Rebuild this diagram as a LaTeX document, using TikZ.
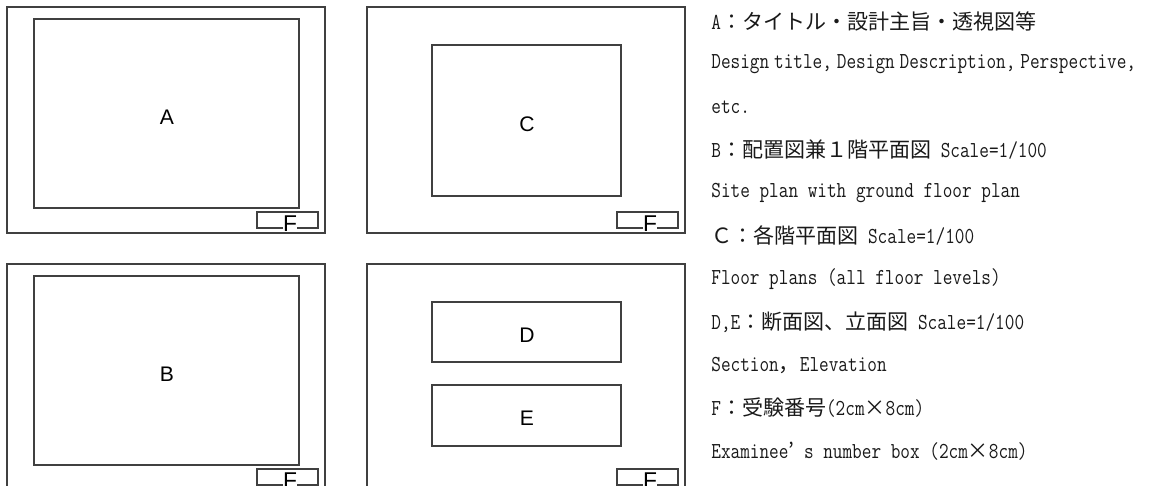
\documentclass[tikz,border=0pt]{standalone}
\usepackage{fontspec}
\setmonofont{Latin Modern Mono}[FakeStretch=0.82]
\newfontfamily\cjk{Noto Sans CJK JP}[Scale=0.92]
\newfontfamily\boxfont{Liberation Sans}
\usetikzlibrary{positioning}

\newcommand{\hs}{\hspace{2.8pt}}

\tikzset{
    sheet/.style={draw=black!75, line width=0.8pt},
    letter/.style={inner sep=0pt, font=\boxfont\fontsize{12}{12}\selectfont},
    tag/.style={inner sep=0pt, font=\boxfont\fontsize{13}{13}\selectfont},
    note/.style={anchor=west, inner sep=0pt, text=black!90, font=\ttfamily\fontsize{13}{14}\selectfont},
}

\begin{document}
\begin{tikzpicture}[x=0.02cm, y=-0.02cm]
    \useasboundingbox (0,0) rectangle (1156,485);
    \clip (0,0) rectangle (1156,485);

    % four sheets with the F box in the corner
    \foreach \dx/\dy/\n in {0/0/a, 360/0/c, 0/257/b, 360/257/d} {
        \begin{scope}[shift={(\dx,\dy)}]
            \draw[sheet] (7,7) rectangle (325,233);
            \node[tag] (F\n) at (290,223.5) {F};
            \draw[sheet] (283,228) -- (257,228) -- (257,212) -- (318,212) -- (318,228) -- (297,228);
        \end{scope}
    }

    % drawing areas
    \draw[sheet] (34,19) rectangle (299,208);
    \node[letter] (A) at (167,117) {A};

    \draw[sheet] (432,45) rectangle (621,196);
    \node[letter] (C) at (527,124) {C};

    \draw[sheet] (34,276) rectangle (299,465);
    \node[letter] (B) at (167,374) {B};

    \draw[sheet] (432,302) rectangle (621,362);
    \node[letter] (D) at (527,335) {D};

    \draw[sheet] (432,385) rectangle (621,446);
    \node[letter] (E) at (527,418) {E};

    % legend
    \node[note] (tA) at (711,21) {A{\cjk ：タイトル・設計主旨・透視図等}};
    \node[note] (tAen) at (711,64) {Design\hs title,\hs Design\hs Description,\hs Perspective,};
    \node[note] (tAetc) at (711,107) {etc.};
    \node[note] (tB) at (711,150) {B{\cjk ：配置図兼１階平面図} Scale=1/100};
    \node[note] (tBen) at (711,193) {Site plan with ground floor plan};
    \node[note] (tC) at (711,236) {{\cjk Ｃ：各階平面図} Scale=1/100};
    \node[note] (tCen) at (711,279) {Floor plans (all floor levels)};
    \node[note] (tDE) at (711,322) {D,E{\cjk ：断面図、立面図} Scale=1/100};
    \node[note] (tDEen) at (711,365) {Section{\cjk ，}Elevation};
    \node[note] (tF) at (711,408) {F{\cjk ：受験番号}(2cm{\cjk ×}8cm)};
    \node[note] (tFen) at (711,451) {Examinee{\cjk ’} s number box (2cm{\cjk ×}8cm)};
\end{tikzpicture}
\end{document}
